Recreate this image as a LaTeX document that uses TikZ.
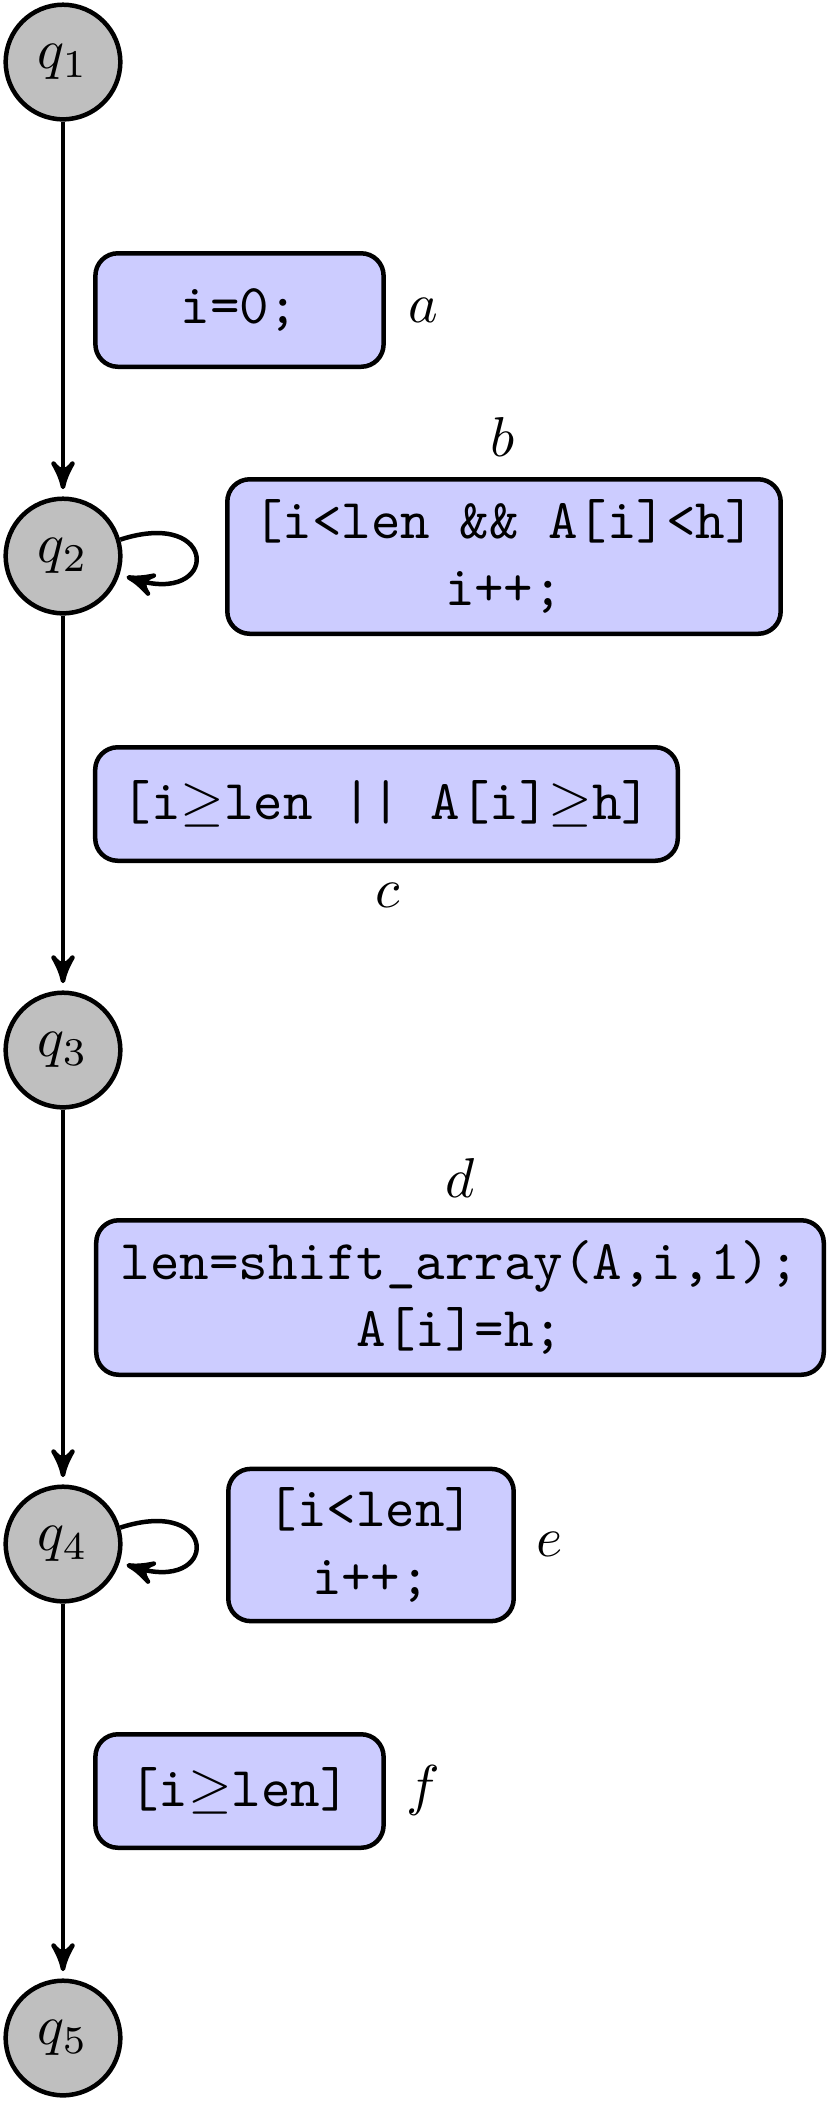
\documentclass[tikz,border=0pt]{standalone}
\usetikzlibrary{arrows}
\begin{document}
\begin{tikzpicture}[x=0.178pt,y=0.178pt,
  state/.style={circle,draw,thick,fill=gray!50,minimum size=20.4pt,inner sep=0pt},
  guard/.style={draw,thick,fill=blue!20,rounded corners=4pt,align=center,font=\ttfamily,inner sep=0pt},
  lab/.style={inner sep=0pt},
  edge/.style={thick,-stealth',shorten >=1.3pt}]
\useasboundingbox (0,0) rectangle (829,-2102);
% states
\node[state] (q1) at (63,-62) {$q_1$};
\node[state] (q2) at (63,-556) {$q_2$};
\node[state] (q3) at (63,-1050) {$q_3$};
\node[state] (q4) at (63,-1544) {$q_4$};
\node[state] (q5) at (63,-2038) {$q_5$};
% guard boxes
\node[guard,minimum width=51.3pt,minimum height=20.2pt] (ga) at (239.5,-310) {i=0;};
\node[guard,minimum width=98.5pt,minimum height=27.5pt] (gb) at (504,-556.5) {[i<len \&\& A[i]<h]\\i++;};
\node[guard,minimum width=103.7pt,minimum height=20.2pt] (gc) at (386.5,-804) {[i$\geq$len || A[i]$\geq$h]};
\node[guard,minimum width=129.5pt,minimum height=27.5pt] (gd) at (460,-1297.5) {len=shift\_array(A,i,1);\\A[i]=h;};
\node[guard,minimum width=50.8pt,minimum height=27.1pt] (ge) at (371,-1545) {[i<len]\\i++;};
\node[guard,minimum width=51.3pt,minimum height=20.2pt] (gf) at (239.5,-1791) {[i$\geq$len]};
% labels
\node[lab] (la) at (423,-310) {$a$};
\node[lab] (lb) at (503,-437) {$b$};
\node[lab] (lc) at (388,-895) {$c$};
\node[lab] (ld) at (460,-1178) {$d$};
\node[lab] (le) at (550,-1544) {$e$};
\node[lab] (lf) at (423,-1790) {$f$};
% transitions
\draw[edge] (q1) -- (q2);
\draw[edge] (q2) -- (q3);
\draw[edge] (q3) -- (q4);
\draw[edge] (q4) -- (q5);
\draw[edge] (q2.16) .. controls +(18:105) and +(-18:105) .. (q2.-18);
\draw[edge] (q4.16) .. controls +(18:105) and +(-18:105) .. (q4.-18);
\end{tikzpicture}
\end{document}
